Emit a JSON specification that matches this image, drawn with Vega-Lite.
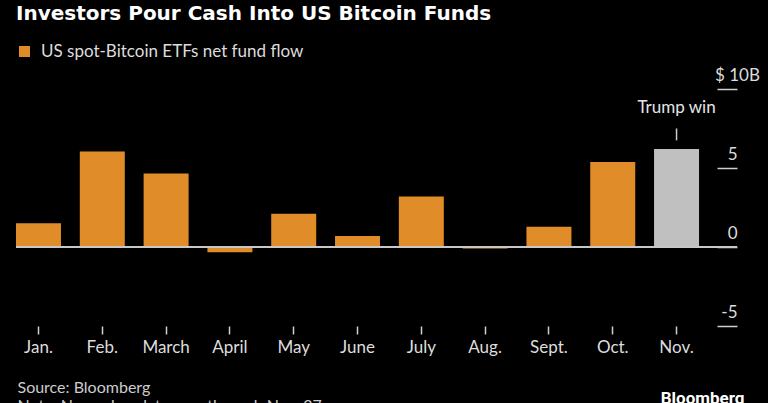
{
  "$schema": "https://vega.github.io/schema/vega-lite/v6.json",
  "background": "#000000",
  "autosize": {"type": "none"},
  "width": 721,
  "height": 237,
  "padding": {"left": 16, "top": 89, "right": 31, "bottom": 77},
  "title": {
    "text": "Investors Pour Cash Into US Bitcoin Funds",
    "anchor": "start",
    "frame": "group",
    "font": "DejaVu Sans",
    "fontSize": 20,
    "fontWeight": "bold",
    "color": "#ffffff",
    "offset": 19
  },
  "data": {
    "values": [
      {"month": "Jan.", "flow": 1.5, "series": "US spot-Bitcoin ETFs net fund flow"},
      {"month": "Feb.", "flow": 6.05, "series": "US spot-Bitcoin ETFs net fund flow"},
      {"month": "March", "flow": 4.65, "series": "US spot-Bitcoin ETFs net fund flow"},
      {"month": "April", "flow": -0.33, "series": "US spot-Bitcoin ETFs net fund flow"},
      {"month": "May", "flow": 2.1, "series": "US spot-Bitcoin ETFs net fund flow"},
      {"month": "June", "flow": 0.7, "series": "US spot-Bitcoin ETFs net fund flow"},
      {"month": "July", "flow": 3.2, "series": "US spot-Bitcoin ETFs net fund flow"},
      {"month": "Aug.", "flow": -0.1, "series": "US spot-Bitcoin ETFs net fund flow"},
      {"month": "Sept.", "flow": 1.28, "series": "US spot-Bitcoin ETFs net fund flow"},
      {"month": "Oct.", "flow": 5.38, "series": "US spot-Bitcoin ETFs net fund flow"},
      {"month": "Nov.", "flow": 6.2, "series": "November (through Nov. 27)", "note": "Trump win", "labelAt": 8.5, "tickLow": 6.75, "tickHigh": 7.5}
    ]
  },
  "encoding": {
    "x": {
      "field": "month",
      "type": "nominal",
      "sort": null,
      "scale": {"paddingInner": 0.295, "paddingOuter": 0.2975, "align": 0},
      "axis": {
        "orient": "bottom",
        "domain": false,
        "grid": false,
        "labelAngle": 0,
        "tickColor": "#cfcfcf",
        "tickSize": 8,
        "tickWidth": 1.5,
        "labelColor": "#dddddd",
        "labelFont": "Lato",
        "labelFontSize": 17,
        "labelPadding": 5,
        "title": ["Source: Bloomberg", "Note: November data runs through Nov. 27"],
        "titleFont": "Lato",
        "titleFontSize": 16,
        "titleFontWeight": "normal",
        "titleColor": "#cccccc",
        "titleAlign": "left",
        "titleAnchor": "start",
        "titleBaseline": "alphabetic",
        "titleLineHeight": 18,
        "titleX": 1,
        "titleY": 66
      }
    }
  },
  "layer": [
    {
      "mark": {"type": "bar"},
      "encoding": {
        "y": {
          "field": "flow",
          "type": "quantitative",
          "scale": {"domain": [-5, 10], "nice": false, "zero": false},
          "axis": {
            "orient": "right",
            "values": [-5, 0, 5, 10],
            "domain": false,
            "grid": false,
            "tickSize": -20,
            "tickWidth": 1.5,
            "tickColor": "#cfcfcf",
            "labelPadding": 20,
            "labelAlign": {"condition": {"test": "datum.value == 10", "value": "center"}, "value": "right"},
            "labelBaseline": "alphabetic",
            "labelOffset": -9,
            "labelColor": "#dddddd",
            "labelFont": "Lato",
            "labelFontSize": 17,
            "labelExpr": "datum.value == 10 ? '$ 10B' : '' + datum.value",
            "title": "Bloomberg",
            "titleAngle": 0,
            "titleAlign": "right",
            "titleBaseline": "top",
            "titleX": 7,
            "titleY": 301,
            "titleFont": "Roboto",
            "titleFontSize": 17,
            "titleFontWeight": "bold",
            "titleColor": "#ffffff"
          }
        },
        "color": {
          "field": "series",
          "type": "nominal",
          "scale": {
            "domain": ["US spot-Bitcoin ETFs net fund flow", "November (through Nov. 27)"],
            "range": ["#e08d29", "#c0c0c0"]
          },
          "legend": {
            "values": ["US spot-Bitcoin ETFs net fund flow"],
            "title": null,
            "orient": "none",
            "legendX": 0,
            "legendY": -46,
            "symbolType": "square",
            "symbolSize": 121,
            "symbolStrokeWidth": 0,
            "symbolOpacity": 1,
            "labelColor": "#dddddd",
            "labelFont": "Lato",
            "labelFontSize": 17,
            "labelOffset": 8,
            "labelLimit": 0
          }
        }
      }
    },
    {
      "mark": {"type": "rule", "color": "#c8c8c8", "strokeWidth": 1.5},
      "encoding": {"y": {"datum": 0}, "x": null}
    },
    {
      "transform": [{"filter": "datum.note != null"}],
      "mark": {"type": "rule", "color": "#cccccc", "strokeWidth": 1.5},
      "encoding": {
        "y": {"field": "tickLow", "type": "quantitative"},
        "y2": {"field": "tickHigh"}
      }
    },
    {
      "transform": [{"filter": "datum.note != null"}],
      "mark": {"type": "text", "color": "#e6e6e6", "font": "Lato", "fontSize": 17, "baseline": "alphabetic", "align": "center"},
      "encoding": {
        "y": {"field": "labelAt", "type": "quantitative"},
        "text": {"field": "note"}
      }
    }
  ],
  "config": {"view": {"stroke": null}}
}
